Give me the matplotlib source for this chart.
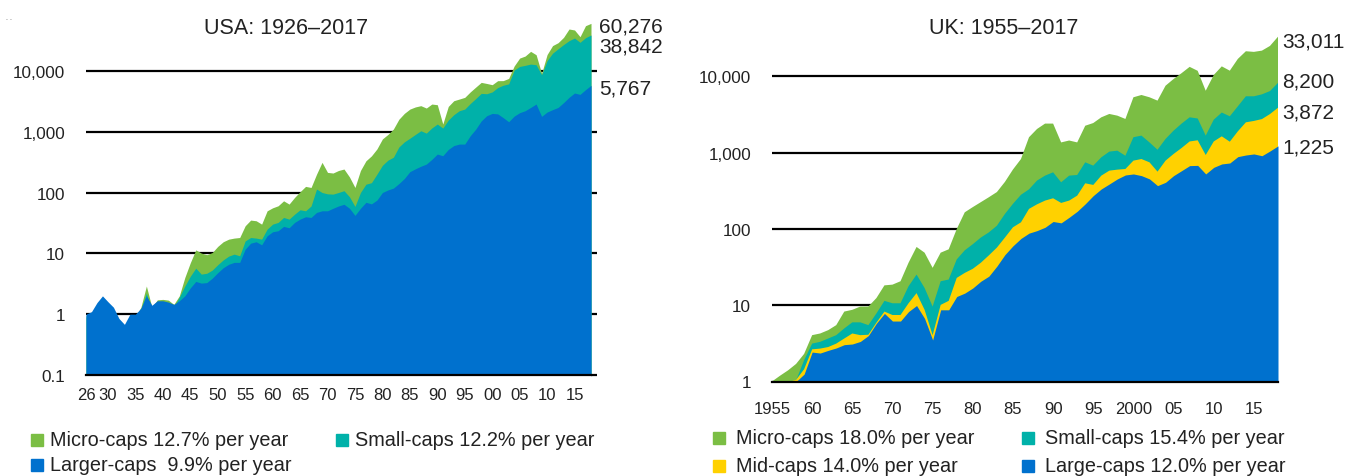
import numpy as np
import matplotlib
matplotlib.use("Agg")
import matplotlib.pyplot as plt
from matplotlib.patches import Rectangle
from matplotlib.ticker import NullLocator, FixedLocator, FixedFormatter

plt.rcParams['font.family'] = ['Liberation Sans', 'DejaVu Sans']

GREEN = '#7BBE44'
TEAL = '#00B1A9'
BLUE = '#0071CE'
YELLOW = '#FFD100'
TXT = '#222222'

# ---------------- USA data (wealth index, value at each year end, 1925 = 1) ----
usa_year_ends = list(range(1925, 2018))
usa_micro = [0.9, 0.95, 1.2, 1.5, 1.05, 0.75, 0.45, 0.4, 0.8, 0.9,
             1.3, 2.9, 1.3, 1.72, 1.75, 1.7, 1.45, 2.0, 4.0, 7.0,
             11.4, 10.1, 9.5, 10.3, 13, 15.5, 17.1, 17.8, 18.2, 28.4,
             35.2, 34.3, 30.2, 50, 56, 60.5, 73, 64.5, 83, 103,
             126, 121, 200, 313, 214, 209, 230, 243, 180, 121,
             230, 332, 400, 520, 760, 900, 1104, 1600, 2000, 2350,
             2550, 2675, 2445, 2844, 2773, 1334, 2600, 3225, 3436, 3663,
             4500, 5400, 6460, 6200, 5918, 6887, 6900, 7500, 12000, 16200,
             17500, 20900, 18400, 9080, 18500, 26000, 29000, 35500, 48700, 46900,
             36400, 55200, 60276]
usa_small = [0.95, 1.0, 1.3, 1.6, 1.2, 0.9, 0.55, 0.45, 0.85, 0.9,
             1.2, 2.2, 1.1, 1.45, 1.5, 1.4, 1.3, 1.9, 2.9, 4.2,
             5.7, 4.55, 4.7, 5.3, 6.5, 7.8, 9.0, 9.7, 9.1, 16,
             18.2, 17.8, 17.1, 25, 30.2, 32.2, 38.9, 36.5, 44, 52,
             50, 60, 114, 100, 95, 94, 100, 107, 85, 59,
             100, 137, 145, 200, 280, 340, 380, 560, 680, 780,
             900, 1035, 946, 1150, 1334, 1146, 1550, 1900, 2208, 2350,
             2900, 3500, 4260, 4200, 4500, 5300, 5800, 6100, 10300, 11800,
             12300, 12900, 12600, 8630, 14700, 19500, 23000, 27000, 31300, 34600,
             29400, 35000, 38842]
usa_large = [1.0, 1.1, 1.55, 2.0, 1.6, 1.3, 0.85, 0.68, 1.0, 1.0,
             1.25, 2.0, 1.4, 1.66, 1.66, 1.58, 1.45, 1.66, 2.0, 2.7,
             3.45, 3.24, 3.3, 3.9, 4.8, 5.8, 6.6, 7.1, 7.1, 11.7,
             14.7, 15.5, 13.8, 19.4, 22.6, 23.5, 27.7, 26.3, 32.2, 36.5,
             39.9, 38.9, 47, 50, 50, 55, 60, 64, 55, 42,
             55, 69, 65, 75, 100, 110, 118, 140, 170, 220,
             245, 270, 293, 350, 428, 402, 510, 590, 625, 625,
             857, 1100, 1500, 1828, 1995, 1960, 1700, 1455, 1800, 2050,
             2208, 2500, 2844, 1784, 2100, 2300, 2500, 3000, 3664, 4316,
             4100, 4900, 5767]
usa_tick_years = [1926, 1930, 1935, 1940, 1945, 1950, 1955, 1960, 1965, 1970,
                  1975, 1980, 1985, 1990, 1995, 2000, 2005, 2010, 2015]
usa_tick_labels = ['26', '30', '35', '40', '45', '50', '55', '60', '65', '70',
                   '75', '80', '85', '90', '95', '00', '05', '10', '15']
usa_end_labels = ['60,276', '38,842', '5,767']
usa_legend = ['Micro-caps 12.7% per year', 'Small-caps 12.2% per year',
              'Larger-caps  9.9% per year']

# ---------------- UK data (value at each year end, 1954 = 1) ----------------
uk_year_ends = list(range(1954, 2018))
uk_micro = [1.0, 1.19, 1.4, 1.7, 2.3, 4.05, 4.26, 4.71, 5.48, 8.25,
            8.7, 9.6, 9.6, 12.4, 18.2, 18.6, 20.6, 36, 58, 48.8,
            30.9, 48.8, 54, 99.5, 165, 193, 224, 260, 304, 413,
            600, 824, 1590, 2040, 2400, 2400, 1360, 1440, 1360, 2250,
            2440, 2900, 3210, 3050, 2760, 5310, 5690, 5310, 4800, 7530,
            9220, 11000, 13300, 11800, 6470, 10400, 13500, 11850, 16900, 21300,
            20900, 21700, 25000, 33011]
uk_small = [1.0, 0.98, 0.97, 1.03, 1.9, 3.14, 3.31, 3.66, 4.05, 4.96,
            5.96, 5.96, 5.48, 7.8, 11.4, 10.6, 10.6, 17.7, 25.2, 16.8,
            9.6, 20.6, 21.7, 39.8, 52.4, 63, 77, 90, 110, 157,
            213, 280, 330, 430, 499, 552, 408, 499, 509, 746,
            675, 867, 1030, 1060, 910, 1590, 1670, 1360, 1090, 1510,
            1940, 2400, 2900, 2800, 1670, 2700, 3350, 2990, 4040, 5470,
            5470, 5800, 6400, 8200]
uk_mid = [1.0, 1.0, 0.98, 1.05, 1.45, 2.64, 2.7, 2.83, 3.14, 3.66,
          4.26, 4.05, 4.1, 5.9, 8.25, 7.44, 7.44, 10.6, 14.4, 8.7,
          4.05, 10.1, 11.4, 22.8, 26.5, 30, 36, 45, 56.9, 77,
          105, 122, 183, 210, 235, 252, 219, 235, 273, 396,
          377, 499, 580, 598, 610, 785, 824, 746, 563, 785,
          960, 1150, 1400, 1450, 930, 1400, 1634, 1390, 1900, 2495,
          2600, 2750, 3200, 3872]
uk_large = [1.0, 0.97, 0.98, 1.0, 1.25, 2.43, 2.36, 2.56, 2.75, 3.04,
            3.1, 3.35, 4.0, 5.8, 7.8, 6.2, 6.2, 8.25, 9.9, 6.7,
            3.5, 8.7, 8.7, 13, 14.4, 16.8, 20.6, 24, 32.5, 46,
            60, 75, 88, 95, 105, 125, 120, 142, 170, 213,
            273, 334, 388, 452, 509, 525, 499, 452, 369, 408,
            499, 580, 675, 680, 525, 641, 710, 731, 885, 930,
            960, 910, 1050, 1225]
uk_tick_years = [1955, 1960, 1965, 1970, 1975, 1980, 1985, 1990, 1995, 2000,
                 2005, 2010, 2015]
uk_tick_labels = ['1955', '60', '65', '70', '75', '80', '85', '90', '95', '2000',
                  '05', '10', '15']
uk_end_labels = ['33,011', '8,200', '3,872', '1,225']
uk_legend = ['Micro-caps 18.0% per year', 'Small-caps 15.4% per year',
             'Mid-caps 14.0% per year', 'Large-caps 12.0% per year']

ytick_vals = [0.1, 1, 10, 100, 1000, 10000]
ytick_text = ['0.1', '1', '10', '100', '1,000', '10,000']

# ---------------- figure -------------------------------------------------------
W, H = 1349, 477
fig = plt.figure(figsize=(W / 100, H / 100), dpi=100)


def px_axes(l, t, r, b):
    return fig.add_axes([l / W, 1 - b / H, (r - l) / W, (b - t) / H])


def ftext(x, y, s, **kw):
    kw.setdefault('color', TXT)
    fig.text(x / W, 1 - y / H, s, **kw)


def style(ax, ymin, ymax, xmin, xmax, ticks, labels, yv, yt, xpad, right_ticks):
    ax.set_yscale('log')
    ax.set_ylim(ymin, ymax)
    ax.set_xlim(xmin, xmax)
    ax.yaxis.set_major_locator(FixedLocator(yv))
    ax.yaxis.set_major_formatter(FixedFormatter(yt))
    ax.yaxis.set_minor_locator(NullLocator())
    ax.set_xticks(ticks)
    ax.set_xticklabels(labels)
    ax.set_axisbelow(True)
    ax.yaxis.grid(True, color='black', lw=1.6)
    for s in ['left', 'right', 'top']:
        ax.spines[s].set_visible(False)
    ax.spines['bottom'].set_color('black')
    ax.spines['bottom'].set_linewidth(1.6)
    ax.spines['bottom'].set_zorder(5)
    ax.tick_params(axis='x', length=0, pad=xpad, labelsize=12, labelcolor=TXT)
    ax.tick_params(axis='y', left=False, right=right_ticks, labelleft=True,
                   labelright=False, length=4, width=1.6, color='black',
                   pad=11, labelsize=12.3, labelcolor=TXT)
    ax.patch.set_alpha(0)


# USA panel
ax1 = px_axes(86, 11, 591, 376)
x1 = np.array(usa_year_ends) + 1  # year-end value placed at start of next year
for vals, col in [(usa_micro, GREEN), (usa_small, TEAL), (usa_large, BLUE)]:
    ax1.fill_between(x1, 1e-3, vals, color=col, lw=0, zorder=2)
style(ax1, 0.1, 1e5, 1926, 2018, usa_tick_years, usa_tick_labels,
      ytick_vals, ytick_text, 9, True)

# UK panel
ax2 = px_axes(772, 1, 1278, 382.5)
x2 = np.array(uk_year_ends) + 1
for vals, col in [(uk_micro, GREEN), (uk_small, TEAL), (uk_mid, YELLOW), (uk_large, BLUE)]:
    ax2.fill_between(x2, 1e-3, vals, color=col, lw=0, zorder=2)
style(ax2, 1, 1e5, 1955, 2018, uk_tick_years, uk_tick_labels,
      ytick_vals[1:], ytick_text[1:], 14, False)

# small marks in the top-left corner of the original
ftext(6, 19, '. .', fontsize=5, ha='left', va='center', color='#555555')

# titles
ftext(286, 29, 'USA: 1926\u20132017', fontsize=15.5, ha='center', va='center')
ftext(1004, 29, 'UK: 1955\u20132017', fontsize=15.5, ha='center', va='center')

# end-value labels
for s, y in zip(usa_end_labels, [27, 47, 89]):
    ftext(599, y, s, fontsize=15, ha='left', va='center')
for s, y in zip(uk_end_labels, [42, 82, 113, 148]):
    ftext(1282, y, s, fontsize=15, ha='left', va='center')


def legend_item(xs, y, col, s, xt):
    sq = 12
    fig.patches.append(Rectangle(((xs - sq / 2) / W, 1 - (y + sq / 2) / H), sq / W, sq / H,
                                 transform=fig.transFigure, color=col, figure=fig))
    ftext(xt, y, s, fontsize=14.3, ha='left', va='center')


legend_item(37, 441, GREEN, usa_legend[0], 50)
legend_item(342, 441, TEAL, usa_legend[1], 355)
legend_item(37, 466, BLUE, usa_legend[2], 50)

legend_item(719, 439, GREEN, uk_legend[0], 736)
legend_item(1028, 439, TEAL, uk_legend[1], 1045)
legend_item(719, 467, YELLOW, uk_legend[2], 736)
legend_item(1028, 467, BLUE, uk_legend[3], 1045)

fig.savefig('out.png', dpi=100)
